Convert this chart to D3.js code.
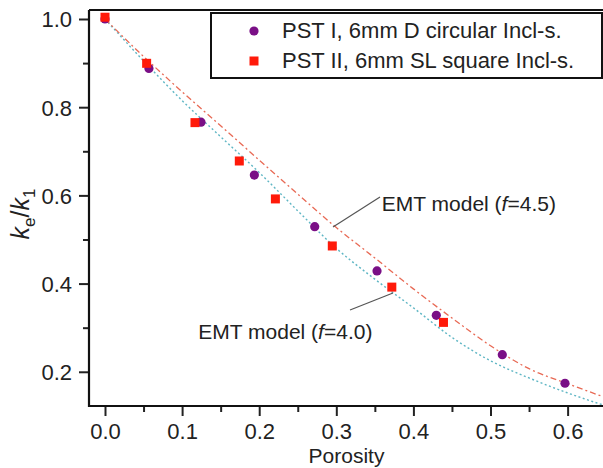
<!DOCTYPE html>
<html>
<head>
<meta charset="utf-8">
<script src="https://cdnjs.cloudflare.com/ajax/libs/d3/7.8.5/d3.min.js"></script>
<style>
html,body{margin:0;padding:0;background:#fff;}
svg{display:block;font-family:"Liberation Sans",Arial,sans-serif;}
</style>
</head>
<body>
<script>
// ---- data ----
const pst1Porosity = [0.0, 0.057, 0.1245, 0.1937, 0.272, 0.3528, 0.4297, 0.5153, 0.5966];
const pst1Ratio    = [1.0, 0.888, 0.766, 0.646, 0.529, 0.4286, 0.328, 0.2388, 0.174];
const pst2Porosity = [0.0, 0.054, 0.1167, 0.1742, 0.221, 0.2948, 0.372, 0.439];
const pst2Ratio    = [1.004, 0.8995, 0.765, 0.678, 0.592, 0.4853, 0.392, 0.312];
const emtPorosity = [0.0, 0.05, 0.1, 0.15, 0.2, 0.25, 0.3, 0.35, 0.4, 0.45, 0.5, 0.55, 0.6, 0.646];
const emt45Ratio  = [1.0, 0.915, 0.835, 0.758, 0.68, 0.603, 0.527, 0.458, 0.388, 0.322, 0.259, 0.207, 0.173, 0.1435];
const emt40Ratio  = [1.0, 0.905, 0.815, 0.733, 0.652, 0.565, 0.48, 0.41, 0.345, 0.278, 0.225, 0.186, 0.152, 0.1247];
const xTicks = [0.0, 0.1, 0.2, 0.3, 0.4, 0.5, 0.6];
const xMinorTicks = [0.05, 0.15, 0.25, 0.35, 0.45, 0.55];
const yTicks = [0.2, 0.4, 0.6, 0.8, 1.0];
const yMinorTicks = [0.3, 0.5, 0.7, 0.9];
const legendLabels = ["PST I, 6mm D circular Incl-s.", "PST II, 6mm SL square Incl-s."];
const annotationLabels = ["4.5", "4.0"];
const annotationTextPos = [[0.359, 0.5646], [0.121, 0.2744]];
const annotationLeaders = [[[0.3567, 0.5964], [0.2957, 0.5283]], [[0.3178, 0.340], [0.3735, 0.3787]]];

// ---- layout ----
const W = 603, H = 468;
const L = 89, R = 603, T = 10, B = 406;
const x = d3.scaleLinear().domain([-0.02075, 0.6459]).range([L, R]);
const y = d3.scaleLinear().domain([0.1224, 1.0204]).range([B, T]);

const svg = d3.select("body").append("svg").attr("width", W).attr("height", H);

const purple = "#7a0f86", red = "#ff1a0a";

// curves
const line = d3.line().x(d => x(d[0])).y(d => y(d[1])).curve(d3.curveMonotoneX);
svg.append("path").datum(d3.zip(emtPorosity, emt40Ratio)).attr("d", line)
  .attr("fill", "none").attr("stroke", "#5fb6c4").attr("stroke-width", 1.4).attr("stroke-dasharray", "2,2.5");
svg.append("path").datum(d3.zip(emtPorosity, emt45Ratio)).attr("d", line)
  .attr("fill", "none").attr("stroke", "#e86a55").attr("stroke-width", 1.3).attr("stroke-dasharray", "6,3,2,3");

// markers
svg.selectAll("circle.p1").data(d3.zip(pst1Porosity, pst1Ratio)).enter().append("circle")
  .attr("cx", d => x(d[0])).attr("cy", d => y(d[1])).attr("r", 4.6).attr("fill", purple);
const sq = 9;
svg.selectAll("rect.p2").data(d3.zip(pst2Porosity, pst2Ratio)).enter().append("rect")
  .attr("x", d => x(d[0]) - sq/2).attr("y", d => y(d[1]) - sq/2).attr("width", sq).attr("height", sq).attr("fill", red);

// axes
const xAxis = svg.append("g").attr("transform", `translate(0,${B})`)
  .call(d3.axisBottom(x).tickValues(xTicks).tickFormat(d3.format(".1f")).tickSize(10).tickSizeOuter(0));
const xMinor = svg.append("g").attr("transform", `translate(0,${B})`)
  .call(d3.axisBottom(x).tickValues(xMinorTicks).tickFormat("").tickSize(6).tickSizeOuter(0));
const yAxis = svg.append("g").attr("transform", `translate(${L},0)`)
  .call(d3.axisLeft(y).tickValues(yTicks).tickFormat(d3.format(".1f")).tickSize(10).tickSizeOuter(0));
const yMinor = svg.append("g").attr("transform", `translate(${L},0)`)
  .call(d3.axisLeft(y).tickValues(yMinorTicks).tickFormat("").tickSize(6).tickSizeOuter(0));
[xAxis, xMinor, yAxis, yMinor].forEach(g => {
  g.selectAll(".domain").remove();
  g.selectAll("line").attr("stroke", "#222").attr("stroke-width", 2);
  g.selectAll("text").attr("fill", "#222").attr("font-size", 22).attr("font-family", "Liberation Sans, Arial, sans-serif");
});
xAxis.selectAll("text").attr("dy", null).attr("y", 33);
yAxis.selectAll("text").attr("x", -17).attr("dy", "0.36em");

// frame
svg.append("path").attr("d", `M${L},${T}V${B}H${R+2}M${L},${T}H${R+2}`)
  .attr("fill", "none").attr("stroke", "#111").attr("stroke-width", 2.2);

// axis titles
svg.append("text").attr("x", 346.5).attr("y", 463).attr("text-anchor", "middle")
  .attr("font-size", 21).attr("fill", "#222").text("Porosity");
const yl = svg.append("text").attr("transform", "translate(29,214) rotate(-90)")
  .attr("text-anchor", "middle").attr("font-size", 25).attr("fill", "#222");
yl.append("tspan").attr("font-style", "italic").text("k");
yl.append("tspan").attr("font-size", 17).attr("dy", 6).text("e");
yl.append("tspan").attr("dy", -6).text("/");
yl.append("tspan").attr("font-style", "italic").text("k");
yl.append("tspan").attr("font-size", 17).attr("dy", 6).text("1");

// legend
const lg = svg.append("g");
lg.append("rect").attr("x", 211).attr("y", 13).attr("width", 391).attr("height", 65)
  .attr("fill", "#fff").attr("stroke", "#111").attr("stroke-width", 2);
lg.append("circle").attr("cx", 254).attr("cy", 31).attr("r", 4.6).attr("fill", purple);
lg.append("rect").attr("x", 254 - sq/2).attr("y", 61 - sq/2).attr("width", sq).attr("height", sq).attr("fill", red);
lg.selectAll("text.lg").data(legendLabels).enter().append("text")
  .attr("x", 282).attr("y", (d, i) => 38 + i * 30).attr("font-size", 22).attr("fill", "#222").text(d => d);

// annotations
annotationLabels.forEach((lab, i) => {
  const t = svg.append("text").attr("x", x(annotationTextPos[i][0])).attr("y", y(annotationTextPos[i][1]))
    .attr("font-size", 21).attr("fill", "#222");
  t.append("tspan").text("EMT model (");
  t.append("tspan").attr("font-style", "italic").text("f");
  t.append("tspan").text("=" + lab + ")");
  const ld = annotationLeaders[i];
  svg.append("line").attr("x1", x(ld[0][0])).attr("y1", y(ld[0][1])).attr("x2", x(ld[1][0])).attr("y2", y(ld[1][1]))
    .attr("stroke", "#555").attr("stroke-width", 1.2);
});
</script>
</body>
</html>
